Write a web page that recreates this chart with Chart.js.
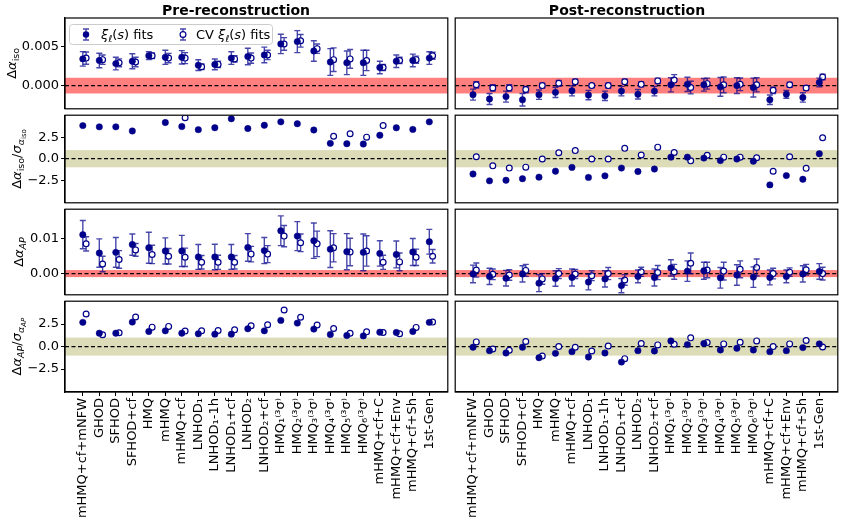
<!DOCTYPE html>
<html>
<head>
<meta charset="utf-8">
<script src="https://cdn.jsdelivr.net/npm/chart.js@4.4.0/dist/chart.umd.min.js"></script>
<style>
body { margin: 0; background: #fff; }
#fig { position: relative; width: 843px; height: 525px; overflow: hidden; }
#fig canvas { position: absolute; }
</style>
</head>
<body>
<div id="fig"></div>
<script>
var categories = ['mHMQ+cf+mNFW', 'GHOD', 'SFHOD', 'SFHOD+cf', 'HMQ', 'mHMQ', 'mHMQ+cf',
    'LNHOD₁', 'LNHOD₁-1h', 'LNHOD₁+cf', 'LNHOD₂', 'LNHOD₂+cf',
    'HMQ₁⁽³σ⁾', 'HMQ₂⁽³σ⁾', 'HMQ₃⁽³σ⁾', 'HMQ₄⁽³σ⁾', 'HMQ₅⁽³σ⁾', 'HMQ₆⁽³σ⁾',
    'mHMQ+cf+C', 'mHMQ+cf+Env', 'mHMQ+cf+Sh', '1st-Gen'];

// delta alpha_iso, pre-reconstruction
var preIsoXi    = [0.0034, 0.0032, 0.0028, 0.0031, 0.0038, 0.0036, 0.0036, 0.0026, 0.0027, 0.0035, 0.0037, 0.0039, 0.0053, 0.0056, 0.0044, 0.0030, 0.0029, 0.0029, 0.0023, 0.0031, 0.0032, 0.0035];
var preIsoXiErr = [0.00092, 0.00092, 0.0008, 0.00095, 0.0005, 0.0009, 0.00085, 0.00068, 0.00068, 0.0008, 0.00105, 0.001, 0.00123, 0.0014, 0.0013, 0.0017, 0.0015, 0.0016, 0.0008, 0.0008, 0.0008, 0.0008];
var preIsoCV    = [0.0035, 0.0033, 0.0029, 0.0030, 0.0038, 0.0035, 0.0035, 0.0024, 0.0027, 0.0034, 0.0035, 0.0039, 0.0053, 0.0057, 0.0047, 0.0033, 0.0034, 0.0032, 0.0023, 0.0032, 0.0033, 0.0038];
var preIsoCVErr = [0.00078, 0.0006, 0.0005, 0.0006, 0.00035, 0.0006, 0.0007, 0.00035, 0.0004, 0.0004, 0.00065, 0.0006, 0.0008, 0.0008, 0.0006, 0.0015, 0.0012, 0.0013, 0.0004, 0.0004, 0.00045, 0.00045];
// delta alpha_iso, post-reconstruction
var postIsoXi    = [-0.00115, -0.0017, -0.0014, -0.0018, -0.00115, -0.00086, -0.00066, -0.0012, -0.0013, -0.0007, -0.0011, -0.0007, 0.0001, 0.00016, 0.0001, -0.00016, 0.0, -0.00025, -0.0018, -0.0011, -0.0015, 0.0004];
var postIsoXiErr = [0.0007, 0.0007, 0.0007, 0.0008, 0.0006, 0.00065, 0.00065, 0.0006, 0.0006, 0.0006, 0.0006, 0.0006, 0.0009, 0.0009, 0.0008, 0.0012, 0.001, 0.0012, 0.0006, 0.0005, 0.0006, 0.00055];
var postIsoCV    = [0.0001, -0.0003, -0.0003, -0.0005, 0.0, 0.0003, 0.0005, 0.0, 0.0, 0.0005, 0.00016, 0.0006, 0.0007, -0.00025, 0.00025, 0.0001, 0.00016, 0.0001, -0.0006, 0.0001, -0.0003, 0.0011];
var postIsoCVErr = [0.0004, 0.0004, 0.0004, 0.0004, 0.0003, 0.00035, 0.0003, 0.00025, 0.0003, 0.0003, 0.0003, 0.00035, 0.0007, 0.0008, 0.0007, 0.001, 0.0008, 0.0009, 0.0004, 0.0003, 0.0003, 0.00035];

// delta alpha_iso / sigma
var preIsoSigXi  = [3.84, 3.70, 3.70, 3.22, 7.0, 4.20, 3.73, 3.37, 3.60, 4.64, 3.50, 3.88, 4.28, 4.06, 3.33, 1.78, 1.74, 1.70, 2.72, 3.59, 3.40, 4.28];
var preIsoSigCV  = [6.3, 6.2, 6.5, 5.9, 9.5, 6.4, 4.75, 6.8, 6.7, 7.9, 6.0, 6.5, 6.6, 7.1, 7.3, 2.6, 2.9, 2.5, 3.84, 7.6, 7.0, 8.2];
var postIsoSigXi = [-1.78, -2.57, -2.5, -2.32, -2.14, -1.45, -1.01, -2.17, -1.99, -1.09, -1.49, -1.2, 0.18, 0.18, 0.07, -0.22, -0.04, -0.29, -3.04, -1.96, -2.39, 0.58];
var postIsoSigCV = [0.22, -0.83, -1.09, -0.98, -0.04, 0.69, 0.94, -0.04, -0.04, 1.2, 0.43, 1.34, 0.72, -0.25, 0.4, 0.18, 0.18, 0.11, -1.45, 0.22, -1.12, 2.43];

// delta alpha_AP
var preApXi    = [0.011, 0.0058, 0.006, 0.0082, 0.0073, 0.0064, 0.0064, 0.0047, 0.0047, 0.0047, 0.0074, 0.0065, 0.0121, 0.0106, 0.0093, 0.0069, 0.0062, 0.006, 0.0057, 0.0054, 0.0061, 0.009];
var preApXiErr = [0.004, 0.004, 0.0042, 0.003, 0.0044, 0.0037, 0.0044, 0.0035, 0.0036, 0.0035, 0.0039, 0.0037, 0.0042, 0.0041, 0.005, 0.0052, 0.0051, 0.0052, 0.0036, 0.0038, 0.0038, 0.0035];
var preApCV    = [0.0084, 0.0027, 0.004, 0.0067, 0.0054, 0.0049, 0.0046, 0.0032, 0.0032, 0.0032, 0.0055, 0.0055, 0.0106, 0.0087, 0.0084, 0.0073, 0.0061, 0.0064, 0.0032, 0.0033, 0.0046, 0.0049];
var preApCVErr = [0.002, 0.0022, 0.0025, 0.0018, 0.0026, 0.0022, 0.0026, 0.0019, 0.002, 0.0019, 0.0022, 0.0024, 0.003, 0.0025, 0.0036, 0.004, 0.0039, 0.0043, 0.002, 0.0025, 0.0023, 0.0019];
var postApXi    = [-0.0001, -0.0008, -0.0013, -0.0001, -0.0027, -0.0014, -0.0011, -0.0024, -0.0015, -0.0034, -0.0008, -0.0011, 0.0016, 0.0007, 0.0008, -0.0012, -0.0004, -0.001, -0.0011, -0.0008, -0.0001, 0.0006];
var postApXiErr = [0.0025, 0.0023, 0.0022, 0.0023, 0.0024, 0.0022, 0.0024, 0.0022, 0.0023, 0.002, 0.0018, 0.0024, 0.0023, 0.0029, 0.0024, 0.0029, 0.0029, 0.0029, 0.0021, 0.0018, 0.0023, 0.0022];
var postApCV    = [0.001, -0.0002, -0.0004, 0.0009, -0.0015, 0.0, -0.0001, -0.0006, 0.0, -0.0018, 0.0005, 0.0003, 0.0005, 0.0029, 0.001, 0.0007, 0.0012, 0.0017, 0.0, 0.0004, 0.0011, 0.0];
var postApCVErr = [0.002, 0.0015, 0.0015, 0.0017, 0.0015, 0.0014, 0.0013, 0.0014, 0.0017, 0.0015, 0.0013, 0.002, 0.0021, 0.0029, 0.0022, 0.0025, 0.0024, 0.0024, 0.0015, 0.0012, 0.0015, 0.0018];

// delta alpha_AP / sigma
var preApSigXi  = [2.69, 1.49, 1.49, 2.72, 1.68, 1.75, 1.49, 1.42, 1.38, 1.38, 1.98, 1.75, 2.91, 2.61, 1.94, 1.34, 1.23, 1.19, 1.6, 1.57, 1.68, 2.69];
var preApSigCV  = [3.62, 1.31, 1.53, 3.28, 2.16, 2.24, 1.72, 1.75, 1.79, 1.87, 2.31, 2.43, 4.07, 3.25, 2.39, 2.01, 1.49, 1.64, 1.57, 1.42, 2.13, 2.72];
var postApSigXi = [-0.07, -0.45, -0.71, -0.07, -1.23, -0.75, -0.56, -1.16, -0.71, -1.72, -0.45, -0.49, 0.63, 0.22, 0.34, -0.37, -0.19, -0.37, -0.56, -0.45, -0.11, 0.3];
var postApSigCV = [0.52, -0.26, -0.41, 0.56, -1.04, 0.0, -0.07, -0.49, 0.07, -1.34, 0.34, 0.19, 0.26, 0.97, 0.45, 0.3, 0.49, 0.63, 0.0, 0.3, 0.67, -0.04];

// y tick values and their labels
var isoTicks = [0, 0.005], isoTickText = ['0.000', '0.005'];
var apTicks = [0, 0.01], apTickText = ['0.00', '0.01'];
var sigTicks = [-2.5, 0, 2.5], sigTickText = ['\u22122.5', '0.0', '2.5'];

var xiColor = '#00008b';
var errColor = 'rgba(0,0,139,0.72)';
var redBand = 'rgba(255,0,0,0.5)';
var oliveBand = 'rgba(128,128,0,0.28)';
var cvOffset = 0.2;

Chart.defaults.font.family = "'DejaVu Sans', sans-serif";
Chart.defaults.color = '#000';

function fontOf(r) {
    return (r.it ? 'italic ' : '') + (r.bold ? 'bold ' : '') + (r.size || 13) + "px 'DejaVu Sans'";
}

// draw a run of text pieces with sub/superscript offsets
function drawRich(ctx, runs, x, y, rotate) {
    ctx.save();
    ctx.translate(x, y);
    if (rotate) ctx.rotate(-Math.PI / 2);
    var total = 0;
    runs.forEach(function(r) { ctx.font = fontOf(r); total += ctx.measureText(r.t).width; });
    var cx = rotate ? -total / 2 : 0;
    ctx.fillStyle = '#000';
    ctx.textBaseline = 'alphabetic';
    ctx.textAlign = 'left';
    runs.forEach(function(r) {
        ctx.font = fontOf(r);
        ctx.fillText(r.t, cx, r.dy || 0);
        cx += ctx.measureText(r.t).width;
    });
    ctx.restore();
}

function errBar(ctx, x, yLo, yHi) {
    ctx.beginPath();
    ctx.moveTo(x, yLo); ctx.lineTo(x, yHi);
    ctx.moveTo(x - 3, yLo); ctx.lineTo(x + 3, yLo);
    ctx.moveTo(x - 3, yHi); ctx.lineTo(x + 3, yHi);
    ctx.stroke();
}

var isoTitle = [{t: '\u0394'}, {t: '\u03b1', it: true}, {t: 'iso', size: 9.5, dy: 3}];
var apTitle = [{t: '\u0394'}, {t: '\u03b1', it: true}, {t: 'AP', it: true, size: 9.5, dy: 3}];
var isoSigTitle = [{t: '\u0394'}, {t: '\u03b1', it: true}, {t: 'iso', size: 9.5, dy: 3}, {t: '/'},
    {t: '\u03c3', it: true}, {t: '\u03b1', it: true, size: 9.5, dy: 3}, {t: 'iso', size: 7, dy: 5}];
var apSigTitle = [{t: '\u0394'}, {t: '\u03b1', it: true}, {t: 'AP', it: true, size: 9.5, dy: 3}, {t: '/'},
    {t: '\u03c3', it: true}, {t: '\u03b1', it: true, size: 9.5, dy: 3}, {t: 'AP', it: true, size: 7, dy: 5}];

var panelPlugin = {
    id: 'panel',
    beforeDatasetsDraw: function(chart, args, o) {
        var ctx = chart.ctx, a = chart.chartArea, y = chart.scales.y;
        ctx.save();
        ctx.beginPath(); ctx.rect(a.left, a.top, a.width, a.height); ctx.clip();
        var yt = y.getPixelForValue(o.band), yb = y.getPixelForValue(-o.band);
        ctx.fillStyle = o.bandColor;
        ctx.fillRect(a.left, yt, a.width, yb - yt);
        var y0 = y.getPixelForValue(0);
        ctx.strokeStyle = '#000'; ctx.lineWidth = 1.2; ctx.setLineDash([4, 2.5]);
        ctx.beginPath(); ctx.moveTo(a.left, y0); ctx.lineTo(a.right, y0); ctx.stroke();
        ctx.restore();
    },
    beforeDatasetDraw: function(chart, args) {
        var ds = chart.data.datasets[args.index];
        if (!ds.errs) return;
        var ctx = chart.ctx, a = chart.chartArea, y = chart.scales.y;
        ctx.save();
        ctx.beginPath(); ctx.rect(a.left, a.top, a.width, a.height); ctx.clip();
        ctx.strokeStyle = errColor; ctx.lineWidth = 1.4;
        args.meta.data.forEach(function(pt, j) {
            var v = ds.data[j].y, e = ds.errs[j];
            errBar(ctx, pt.x, y.getPixelForValue(v - e), y.getPixelForValue(v + e));
        });
        ctx.restore();
    },
    afterDraw: function(chart, args, o) {
        var ctx = chart.ctx, a = chart.chartArea;
        ctx.save();
        ctx.strokeStyle = '#000'; ctx.lineWidth = 1.2;
        ctx.strokeRect(a.left, a.top, a.width, a.height);
        ctx.restore();
        if (o.yTitle) drawRich(ctx, o.yTitle, o.yTitleX, (a.top + a.bottom) / 2, true);
        if (o.title) {
            ctx.save();
            ctx.font = "bold 14px 'DejaVu Sans'";
            ctx.textAlign = 'center'; ctx.fillStyle = '#000';
            ctx.fillText(o.title, o.titleX, 15);
            ctx.restore();
        }
        if (o.legend) {
            ctx.save();
            ctx.fillStyle = 'rgba(255,255,255,0.85)'; ctx.strokeStyle = '#cccccc'; ctx.lineWidth = 1;
            ctx.beginPath(); ctx.roundRect(69.5, 24.5, 203, 20, 3); ctx.fill(); ctx.stroke();
            ctx.strokeStyle = errColor; ctx.lineWidth = 1.4;
            errBar(ctx, 86, 29, 40); errBar(ctx, 183, 29, 40);
            ctx.fillStyle = xiColor;
            ctx.beginPath(); ctx.arc(86, 34.5, 3.2, 0, Math.PI * 2); ctx.fill();
            ctx.fillStyle = '#fff'; ctx.strokeStyle = xiColor; ctx.lineWidth = 1.2;
            ctx.beginPath(); ctx.arc(183, 34.5, 2.9, 0, Math.PI * 2); ctx.fill(); ctx.stroke();
            ctx.restore();
            var xiRuns = [{t: '\u03be', it: true}, {t: '\u2113', it: true, size: 9.5, dy: 3}, {t: '('}, {t: 's', it: true}, {t: ') fits'}];
            drawRich(ctx, xiRuns, 101, 39, false);
            drawRich(ctx, [{t: 'CV '}].concat(xiRuns), 196, 39, false);
        }
    }
};

function points(vals, shift) {
    return vals.map(function(v, i) { return {x: i + shift, y: v}; });
}

function makePanel(p) {
    var cols = [{left: 0, width: 453, pl: 0, pr: 2}, {left: 450, width: 393, pl: 1, pr: 5}];
    var rows = [{top: 0, height: 114, pt: 18, pb: 2}, {top: 110, height: 98, pt: 2, pb: 2},
                {top: 204, height: 96, pt: 2, pb: 2}, {top: 296, height: 229, pt: 2, pb: 0}];
    var c = cols[p.col], r = rows[p.row];
    var showX = p.row === 3, showY = p.col === 0;
    var canvas = document.createElement('canvas');
    canvas.width = c.width; canvas.height = r.height;
    canvas.style.left = c.left + 'px'; canvas.style.top = r.top + 'px';
    document.getElementById('fig').appendChild(canvas);

    var datasets = [{
        label: 'xi fits', data: points(p.xi, 0), errs: p.xiErr,
        pointRadius: 3.2, pointBackgroundColor: xiColor, pointBorderColor: xiColor, pointBorderWidth: 0.5, clip: 0
    }, {
        label: 'CV xi fits', data: points(p.cv, cvOffset), errs: p.cvErr,
        pointRadius: 2.9, pointBackgroundColor: '#fff', pointBorderColor: xiColor, pointBorderWidth: 1.2, clip: 0
    }];

    new Chart(canvas, {
        type: 'scatter',
        data: {datasets: datasets},
        options: {
            responsive: false, animation: false, events: [],
            layout: {padding: {left: c.pl, right: c.pr, top: r.pt, bottom: r.pb}},
            plugins: {
                legend: {display: false}, tooltip: {enabled: false},
                panel: {
                    band: p.band, bandColor: p.bandColor,
                    yTitle: showY ? p.yTitle : null, yTitleX: p.yTitleX,
                    title: p.title, titleX: p.titleX, legend: p.legend
                }
            },
            scales: {
                x: {
                    type: 'linear', min: -1.08, max: 22.12, display: showX,
                    grid: {display: true, drawOnChartArea: false, drawTicks: true, tickLength: 4, color: '#000'},
                    border: {display: true, color: '#000', width: 1.2},
                    afterBuildTicks: function(s) { s.ticks = categories.map(function(_, i) { return {value: i}; }); },
                    afterFit: function(s) {
                        s.paddingLeft = 0; s.paddingRight = 0;
                        if (showX) s.height = 133;
                    },
                    ticks: {
                        autoSkip: false, minRotation: 90, maxRotation: 90, padding: 2,
                        font: {size: 13}, color: '#000',
                        callback: function(v, i) { return categories[i]; }
                    }
                },
                y: {
                    type: 'linear', min: p.yMin, max: p.yMax, display: showY,
                    grid: {display: true, drawOnChartArea: false, drawTicks: true, tickLength: 4, color: '#000'},
                    border: {display: true, color: '#000', width: 1.2},
                    afterBuildTicks: function(s) { s.ticks = p.ticks.map(function(v) { return {value: v}; }); },
                    afterFit: function(s) {
                        s.paddingTop = 0; s.paddingBottom = 0;
                        if (showY) s.width = 65;
                    },
                    ticks: {
                        padding: 2, font: {size: 13}, color: '#000',
                        callback: function(v, i) { return p.tickText[i]; }
                    }
                }
            }
        },
        plugins: [panelPlugin]
    });
}

makePanel({col: 0, row: 0, xi: preIsoXi, xiErr: preIsoXiErr, cv: preIsoCV, cvErr: preIsoCVErr,
    yMin: -0.00295, yMax: 0.0086, ticks: isoTicks, tickText: isoTickText, band: 0.001, bandColor: redBand,
    yTitle: isoTitle, yTitleX: 16, title: 'Pre-reconstruction', titleX: 236, legend: true});
makePanel({col: 1, row: 0, xi: postIsoXi, xiErr: postIsoXiErr, cv: postIsoCV, cvErr: postIsoCVErr,
    yMin: -0.00295, yMax: 0.0086, ticks: isoTicks, tickText: isoTickText, band: 0.001, bandColor: redBand,
    title: 'Post-reconstruction', titleX: 177});
makePanel({col: 0, row: 1, xi: preIsoSigXi, cv: preIsoSigCV,
    yMin: -5.12, yMax: 5.05, ticks: sigTicks, tickText: sigTickText, band: 1, bandColor: oliveBand,
    yTitle: isoSigTitle, yTitleX: 21});
makePanel({col: 1, row: 1, xi: postIsoSigXi, cv: postIsoSigCV,
    yMin: -5.12, yMax: 5.05, ticks: sigTicks, tickText: sigTickText, band: 1, bandColor: oliveBand});
makePanel({col: 0, row: 2, xi: preApXi, xiErr: preApXiErr, cv: preApCV, cvErr: preApCVErr,
    yMin: -0.006, yMax: 0.0182, ticks: apTicks, tickText: apTickText, band: 0.001, bandColor: redBand,
    yTitle: apTitle, yTitleX: 23});
makePanel({col: 1, row: 2, xi: postApXi, xiErr: postApXiErr, cv: postApCV, cvErr: postApCVErr,
    yMin: -0.006, yMax: 0.0182, ticks: apTicks, tickText: apTickText, band: 0.001, bandColor: redBand});
makePanel({col: 0, row: 3, xi: preApSigXi, cv: preApSigCV,
    yMin: -5.04, yMax: 5.04, ticks: sigTicks, tickText: sigTickText, band: 1, bandColor: oliveBand,
    yTitle: apSigTitle, yTitleX: 21});
makePanel({col: 1, row: 3, xi: postApSigXi, cv: postApSigCV,
    yMin: -5.04, yMax: 5.04, ticks: sigTicks, tickText: sigTickText, band: 1, bandColor: oliveBand});
</script>
</body>
</html>
